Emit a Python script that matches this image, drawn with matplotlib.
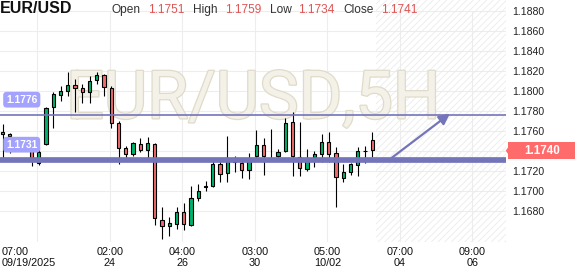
import matplotlib
matplotlib.use("Agg")
import matplotlib.pyplot as plt
import matplotlib.transforms as mtransforms
import matplotlib.patheffects as pe
from matplotlib.patches import Rectangle, Polygon

plt.rcParams['font.family'] = ['Liberation Sans', 'DejaVu Sans']
plt.rcParams['hatch.linewidth'] = 0.6

# 5H candles, oldest first
opens = [1.1759, 1.1757, 1.1750, 1.1744, 1.1740, 1.1728, 1.1747, 1.1784, 1.1796, 1.1800,
         1.1806, 1.1803, 1.1799, 1.1811, 1.1816, 1.1803, 1.1768, 1.1743, 1.1737, 1.1747,
         1.1741, 1.1747, 1.1671, 1.1665, 1.1667, 1.1679, 1.1666, 1.1693, 1.1704, 1.1705,
         1.1727, 1.1718, 1.1730, 1.1728, 1.1721, 1.1735, 1.1746, 1.1733, 1.1735, 1.1740,
         1.1769, 1.1734, 1.1722, 1.1734, 1.1737, 1.1749, 1.1738, 1.1713, 1.1719, 1.1726,
         1.1740, 1.1751]
highs = [1.1767, 1.1758, 1.1752, 1.1749, 1.1742, 1.1744, 1.1784, 1.1799, 1.1805, 1.1819,
         1.1812, 1.1807, 1.1815, 1.1819, 1.1817, 1.1805, 1.1770, 1.1745, 1.1749, 1.1753,
         1.1754, 1.1748, 1.1684, 1.1674, 1.1684, 1.1688, 1.1705, 1.1707, 1.1710, 1.1733,
         1.1732, 1.1755, 1.1735, 1.1732, 1.1738, 1.1761, 1.1753, 1.1762, 1.1742, 1.1773,
         1.1779, 1.1769, 1.1742, 1.1740, 1.1757, 1.1759, 1.1744, 1.1727, 1.1728, 1.1744,
         1.1745, 1.1759]
lows = [1.1731, 1.1738, 1.1741, 1.1741, 1.1725, 1.1726, 1.1746, 1.1763, 1.1790, 1.1795,
        1.1779, 1.1788, 1.1788, 1.1807, 1.1795, 1.1763, 1.1727, 1.1730, 1.1735, 1.1739,
        1.1730, 1.1666, 1.1652, 1.1655, 1.1662, 1.1661, 1.1665, 1.1690, 1.1700, 1.1704,
        1.1709, 1.1709, 1.1719, 1.1713, 1.1712, 1.1733, 1.1716, 1.1732, 1.1730, 1.1739,
        1.1715, 1.1715, 1.1720, 1.1724, 1.1729, 1.1729, 1.1684, 1.1709, 1.1716, 1.1715,
        1.1728, 1.1734]
closes = [1.1757, 1.1755, 1.1744, 1.1746, 1.1733, 1.1739, 1.1783, 1.1797, 1.1800, 1.1806,
          1.1803, 1.1799, 1.1810, 1.1816, 1.1804, 1.1768, 1.1743, 1.1737, 1.1748, 1.1741,
          1.1748, 1.1673, 1.1665, 1.1668, 1.1679, 1.1667, 1.1693, 1.1700, 1.1705, 1.1727,
          1.1717, 1.1730, 1.1729, 1.1721, 1.1733, 1.1746, 1.1735, 1.1733, 1.1739, 1.1768,
          1.1735, 1.1723, 1.1732, 1.1737, 1.1749, 1.1737, 1.1714, 1.1719, 1.1727, 1.1740,
          1.1740, 1.1741]

current_price = 1.1740
level_lines = [1.1776, 1.1731]
arrow_start = (53.7, 1.1733)
arrow_end = (61.7, 1.1777)

time_ticks = [4.8, 14.8, 24.8, 34.8, 44.8, 54.8, 64.8]
time_top = ['07:00', '02:00', '04:00', '03:00', '05:00', '07:00', '09:00']
time_bottom = ['09/19/2025', '24', '26', '30', '10/02', '04', '06']
price_ticks = [1.1680, 1.1700, 1.1720, 1.1740, 1.1760, 1.1780, 1.1800,
               1.1820, 1.1840, 1.1860, 1.1880]

GREEN = '#00b26b'
RED = '#f26b6b'
LINE = '#7474ba'

fig = plt.figure(figsize=(5.76, 2.68), dpi=100)
ax = fig.add_axes([0, 0.0981, 0.878, 0.902])
ax.set_xlim(-0.345, 69.4)
ax.set_ylim(1.1649, 1.18907)
for s in ax.spines.values():
    s.set_visible(False)

# grid
for p in price_ticks:
    ax.axhline(p, color='#ededed', lw=0.8, zorder=0)
ax.vlines(time_ticks, 1.1649, price_ticks[-1], color='#ededed', lw=0.8, zorder=0)

# future (hatched) zone
n = len(opens)
ax.axvspan(n - 0.5, 69.4, facecolor='none', edgecolor='#ebebeb', hatch='/////',
           lw=0, zorder=0.5)

# watermark
ax.text(0.5, 0.585, 'EUR/USD,5H', transform=ax.transAxes, ha='center', va='center',
        fontsize=48, family='Roboto', color='#f3f1e8', zorder=0.6,
        path_effects=[pe.withStroke(linewidth=1.8, foreground='#e0dbc9')])

# candles
idx = list(range(n))
colors = [GREEN if c >= o else RED for o, c in zip(opens, closes)]
ax.vlines(idx, lows, highs, color='black', lw=0.8, zorder=2)
bottoms = [min(o, c) for o, c in zip(opens, closes)]
heights = [abs(c - o) for o, c in zip(opens, closes)]
ax.bar(idx, heights, bottom=bottoms, width=0.45, color=colors, edgecolor='black',
       linewidth=0.8, zorder=3)

# level lines and arrow
ax.axhline(level_lines[0], color=LINE, lw=1.2, zorder=4)
ax.axhline(level_lines[1], color=LINE, lw=4.1, zorder=4)
ax.annotate('', xy=arrow_end, xytext=arrow_start,
            arrowprops=dict(arrowstyle='-|>', color=LINE, lw=1.6, mutation_scale=16,
                            shrinkA=0, shrinkB=0), zorder=5)
bt = mtransforms.blended_transform_factory(ax.transAxes, ax.transData)
for lv in level_lines:
    ax.text(0.012, lv + 0.0015, f'{lv:.4f}', transform=bt,
            ha='left', va='center', fontsize=7.4, fontweight='bold', color='white', zorder=6,
            bbox=dict(boxstyle='round,pad=0.28,rounding_size=0.35', fc='#a3a3ff', ec='none'))

# right price axis (the 1.1740 tick sits under the current-price tag)
ax.yaxis.tick_right()
ax.set_yticks(price_ticks)
ax.set_yticklabels(['' if abs(p - current_price) < 1e-6 else f'{p:.4f}' for p in price_ticks])
ax.tick_params(axis='y', length=0, pad=5, labelsize=7.6, labelcolor='#222222')
ax.set_xticks([])

# current price tag
ax.add_patch(Rectangle((1.0045, current_price - 0.00083), 0.1325, 0.00166, transform=bt,
                       fc='#ff6b6b', ec='none', clip_on=False, zorder=7))
ax.add_patch(Polygon([(1.0, current_price), (1.0048, current_price + 0.00035),
                      (1.0048, current_price - 0.00035)], closed=True, transform=bt,
                     fc='#ff6b6b', ec='none', clip_on=False, zorder=7))
ax.text(1.0718, current_price, f'{current_price:.4f}', transform=bt, ha='center', va='center',
        fontsize=8.4, fontweight='bold', color='white', zorder=8, clip_on=False)

# time labels
tt = mtransforms.blended_transform_factory(ax.transData, fig.transFigure)
for i, (x, a, b) in enumerate(zip(time_ticks, time_top, time_bottom)):
    if i == 0:
        fig.text(0.0035, 0.047, a, ha='left', va='baseline', fontsize=7.8, color='#111111')
        fig.text(0.0035, 0.008, b, ha='left', va='baseline', fontsize=7.8, color='#111111')
    else:
        ax.text(x, 0.047, a, transform=tt, ha='center', va='baseline', fontsize=7.8,
                color='#111111', clip_on=False)
        ax.text(x, 0.008, b, transform=tt, ha='center', va='baseline', fontsize=7.8,
                color='#111111', clip_on=False)

# header
fig.text(0.0, 0.951, 'EUR/USD', ha='left', va='baseline', fontsize=11.5,
         fontweight='bold', color='#111111')
header_labels = ['Open', 'High', 'Low', 'Close']
header_values = [opens[-1], highs[-1], lows[-1], closes[-1]]
label_x = [111, 193, 270, 343]
value_x = [148, 225, 298, 381]
for lab, val, lx, vx in zip(header_labels, header_values, label_x, value_x):
    fig.text(lx / 576, 0.953, lab, ha='left', va='baseline', fontsize=8.6, color='#333333')
    fig.text(vx / 576, 0.953, f'{val:.4f}', ha='left', va='baseline', fontsize=8.6,
             color='#dd5555')

fig.savefig('out.png', dpi=100)
